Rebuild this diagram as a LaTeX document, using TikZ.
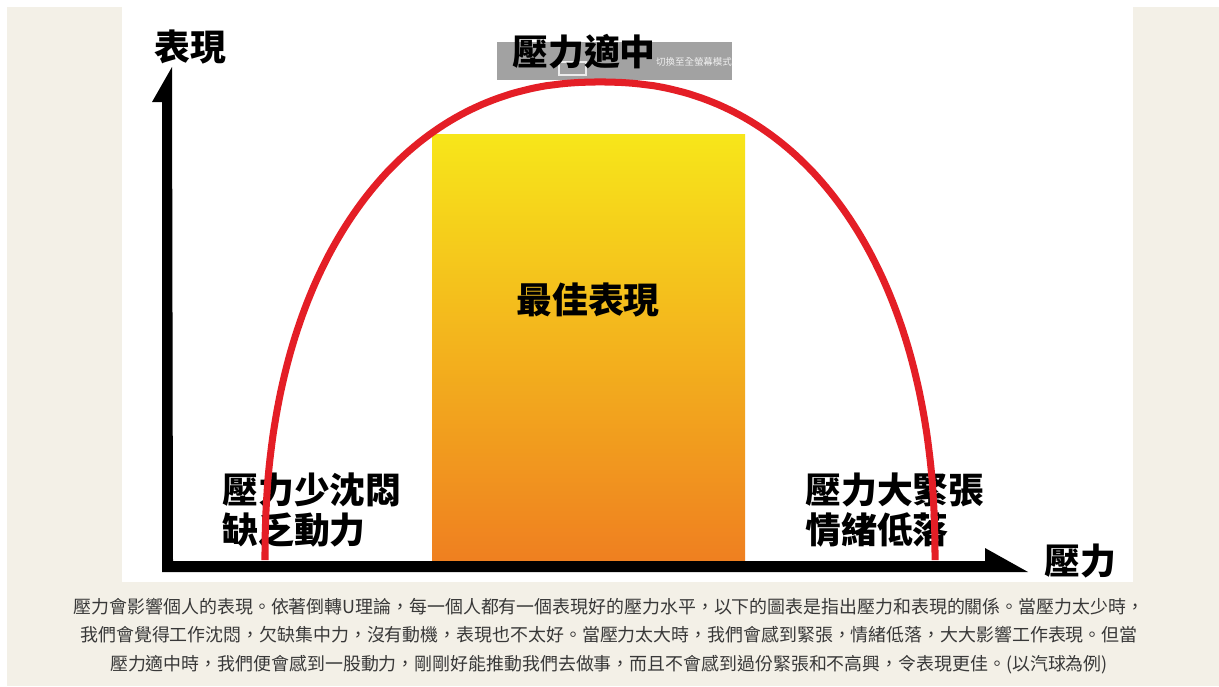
\documentclass[tikz,border=0pt]{standalone}
\usepackage{fontspec}
\newfontfamily\cjk{Noto Sans CJK TC}
\definecolor{paper}{HTML}{F3F0E7}
\definecolor{curvered}{HTML}{E41E26}
\definecolor{boxgrey}{HTML}{A2A2A2}
\definecolor{notegrey}{HTML}{383838}
\definecolor{zoneyellow}{HTML}{F7E61A}
\definecolor{zonemid}{HTML}{F6C41C}
\definecolor{zoneorange}{HTML}{EF7F20}
\begin{document}
\begin{tikzpicture}[x=0.02cm,y=-0.02cm,
biglabel/.style={font=\cjk\bfseries\fontsize{20.4}{23}\selectfont,inner sep=0pt},
sidelabel/.style={biglabel,align=left,anchor=west},
note/.style={font=\cjk\fontsize{10.2}{16.2}\selectfont,text=notegrey,align=center,inner sep=0pt}]
\useasboundingbox (0,0) rectangle (1219,686);

% page and panel
\fill[paper] (7,7) rectangle (1219,686);
\fill[white] (122,0) rectangle (1133,582);

% best zone
\shade[top color=zoneyellow,middle color=zonemid,bottom color=zoneorange]
(432,134) rectangle (745,563);
\node[biglabel](best) at (588,300){最佳表現};

% overlay
\fill[boxgrey] (497,42) rectangle (732,80);
\draw[white!85!gray,line width=0.6pt] (559,62) rectangle (586,75);
\node[font=\cjk\fontsize{5.4}{6}\selectfont,text=white!88!gray,inner sep=0pt](fullscreen) at (694,62){切換至全螢幕模式};
\node[biglabel](top) at (584,52){壓力適中};

% side texts
\node[sidelabel](low) at (222,510){壓力少沈悶\\缺乏動力};
\node[sidelabel](high) at (805,510){壓力大緊張\\情緒低落};

% inverted U
\coordinate (leftfoot) at (265,560);
\coordinate (rightfoot) at (935,560);
\draw[curvered,line width=4pt] (rightfoot) -- plot[domain=0.5:179.5,samples=180,variable=\t]
({600+335*sign(cos(\t))*abs(cos(\t))^0.909},{560-478*abs(sin(\t))^0.909}) -- (leftfoot);

% axes
\coordinate (origin) at (162,572);
\coordinate (ytip) at (172,67);
\coordinate (xtip) at (1028,572);
\fill[black] (origin) -- (162,102) -- (152,102) -- (ytip) -- (173,561)
-- (985,561) -- (985,548) -- (xtip) -- cycle;
\node[biglabel](ylab) at (190,47){表現};
\node[biglabel](xlab) at (1080,561){壓力};

% caption
\node[note](caption) at (609,636){壓力會影響個人的表現。依著倒轉U理論，每一個人都有一個表現好的壓力水平，以下的圖表是指出壓力和表現的關係。當壓力太少時，\\
我們會覺得工作沈悶，欠缺集中力，沒有動機，表現也不太好。當壓力太大時，我們會感到緊張，情緒低落，大大影響工作表現。但當\\
壓力適中時，我們便會感到一股動力，剛剛好能推動我們去做事，而且不會感到過份緊張和不高興，令表現更佳。(以汽球為例)};
\end{tikzpicture}
\end{document}
